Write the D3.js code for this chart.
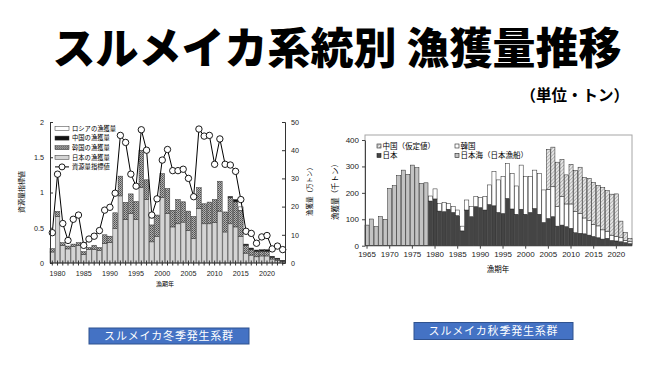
<!DOCTYPE html>
<html>
<head>
<meta charset="utf-8">
<script src="https://cdn.jsdelivr.net/npm/d3@7"></script>
<style>
  body { margin: 0; background: #fff; }
  svg text { font-family: "Liberation Sans", Arial, "Noto Sans CJK JP", sans-serif; }
  .jp { font-family: "Noto Sans CJK JP", sans-serif; }
</style>
</head>
<body>
<div id="chart"></div>
<script>
// ---- winter cohort (万トン, index) ----
var yearsW = d3.range(1979, 2024);
var japanW  = [3.9,16.5,6.2,5.0,5.8,6.3,3.0,4.8,4.8,4.5, 7.0,7.3,12.2,23.8,15.5,17.5,15.5,26.8,22.5,7.5,
               9.5,23.2,17.5,12.8,13.9,14.5,11.6,8.6,19.3,13.9, 13.9,14.3,18.4,11.0,13.9,12.8,9.5,3.5,2.8,2.2,
               2.5,2.5,1.4,1.0,0.6];
var koreaW  = [1.2,1.8,1.0,1.0,0.9,0.9,1.0,0.7,1.5,1.0, 3.0,2.2,5.6,7.0,6.0,7.0,6.3,13.2,7.0,6.0,
               7.5,8.5,8.9,5.9,8.6,7.2,6.8,7.9,7.4,7.1, 7.7,8.2,10.6,7.1,9.3,8.9,9.2,2.8,2.0,1.9,
               1.7,1.6,0.6,0.4,0.1];
var chinaW  = [0,0,0,0,0,0,0,0,0,0, 0,0,0,0,0,0,0,0,0,0,
               0,0,0,0,0,0,0,0,0,0, 0,0,0,0,0.4,0.8,0,0.4,0.5,0.5,
               0.5,0.6,0.4,0.3,0.2];
var russiaW = [0,0,0,0,0,0,0,0,0,0, 0,0,0,0,0,0,0,0,0,2.5,
               0,0,0,0,0,0,0,0,0,0, 0,0,0,0,0,0,1.2,0,0,0,
               0,0,0,0,0];
var indexW  = [0.43,1.26,0.56,0.32,0.62,0.68,0.25,0.34,0.38,0.46, 0.75,0.79,0.99,1.81,1.71,1.26,1.09,1.89,1.6,0.68,
               0.91,1.46,1.61,1.31,1.31,1.33,1.2,0.94,1.9,1.8, 1.81,1.4,1.76,1.4,1.39,1.3,0.9,0.45,0.42,0.28,
               0.37,0.39,0.2,0.24,0.19];
var ticksWL = [0,0.5,1,1.5,2];
var ticksWR = [0,10,20,30,40,50];

// ---- autumn cohort (千トン) ----
var yearsA = d3.range(1965, 2024);
var seaA   = [78,101,72,110,100,217,227,265,286,270,305,295,236,238];   // 1965-1978
var japanA = [169,177,131,129,138,126,114,56,135,110, 148,144,135,156,151,126,122,179,139,119,
              138,119,126,141,119,88,103,110,74,78, 72,66,49,47,45,40,35,30,25,28,
              20,18,15,12,8];                                          // 1979-2023
var totKA  = [188,215,160,164,160,148,135,74,173,148, 186,182,186,230,280,249,261,312,274,226,
              305,261,261,286,274,211,213,223,148,186, 158,158,129,122,105,95,80,75,60,55,
              40,35,30,20,15];                                         // japan + korea
var totA   = [188,215,160,164,160,148,135,74,173,148, 186,182,186,230,280,249,261,312,274,226,
              305,261,261,286,274,211,364,373,316,326, 268,308,284,297,258,255,240,228,220,208,
              195,196,93,50,28];                                       // all
var ticksA = [0,100,200,300,400];

// build tables
var tableW = yearsW.map(function(y, i) {
  return {year: y, japan: japanW[i], korea: koreaW[i], china: chinaW[i], russia: russiaW[i], index: indexW[i]};
});
var tableA = yearsA.map(function(y, i) {
  var k = i - 14;
  if (k < 0) return {year: y, japan: 0, korea: 0, china: 0, sea: seaA[i]};
  return {year: y, japan: japanA[k], korea: totKA[k] - japanA[k], china: totA[k] - totKA[k], sea: 0};
});

var svg = d3.select("#chart").append("svg")
  .attr("width", 650).attr("height", 365)
  .style("display", "block");

var defs = svg.append("defs");
var pk = defs.append("pattern").attr("id", "krPat")
  .attr("patternUnits", "userSpaceOnUse").attr("width", 2).attr("height", 2);
pk.append("rect").attr("width", 2).attr("height", 2).attr("fill", "#b0b0b0");
pk.append("rect").attr("width", 1).attr("height", 1).attr("fill", "#505050");
pk.append("rect").attr("x", 1).attr("y", 1).attr("width", 1).attr("height", 1).attr("fill", "#6a6a6a");

var pc = defs.append("pattern").attr("id", "cnPat")
  .attr("patternUnits", "userSpaceOnUse").attr("width", 2.5).attr("height", 2.5)
  .attr("patternTransform", "rotate(45)");
pc.append("rect").attr("width", 2.5).attr("height", 2.5).attr("fill", "#e6e6e6");
pc.append("line").attr("x1", 0).attr("y1", 0).attr("x2", 0).attr("y2", 2.5)
  .attr("stroke", "#8a8a8a").attr("stroke-width", 1);

// title
svg.append("text").attr("class", "jp")
  .attr("x", 337).attr("y", 64).attr("text-anchor", "middle")
  .attr("font-size", 43).attr("font-weight", 900).attr("fill", "#000")
  .text("スルメイカ系統別 漁獲量推移");
svg.append("text").attr("class", "jp")
  .attr("x", 629).attr("y", 101).attr("text-anchor", "end")
  .attr("font-size", 15.5).attr("font-weight", 700)
  .text("（単位・トン）");

//********** left chart: winter cohort **********//
var xW = d3.scaleBand().domain(yearsW).range([50, 285]).paddingInner(0.12);
var yWt = d3.scaleLinear().domain([0, 50]).range([263, 122]);
var yWi = d3.scaleLinear().domain([0, 2]).range([263, 122]);

var keysW = ["japan", "korea", "china", "russia"];
var fillW = {japan: "#d4d4d4", korea: "url(#krPat)", china: "#111", russia: "#fff"};
var stackW = d3.stack().keys(keysW)(tableW);

var gW = svg.append("g");
gW.selectAll("g.ser").data(stackW).enter().append("g")
  .attr("fill", function(d) { return fillW[d.key]; })
  .selectAll("rect").data(function(d) { return d.filter(function(p) { return p[1] - p[0] > 0; }); })
  .enter().append("rect")
    .attr("x", function(d) { return xW(d.data.year); })
    .attr("width", xW.bandwidth())
    .attr("y", function(d) { return yWt(d[1]); })
    .attr("height", function(d) { return yWt(d[0]) - yWt(d[1]); })
    .attr("stroke", "#333").attr("stroke-width", 0.5);

var lineW = d3.line()
  .x(function(d) { return xW(d.year) + xW.bandwidth() / 2; })
  .y(function(d) { return yWi(d.index); });
gW.append("path").datum(tableW).attr("d", lineW)
  .attr("fill", "none").attr("stroke", "#000").attr("stroke-width", 1);
gW.selectAll("circle").data(tableW).enter().append("circle")
  .attr("cx", function(d) { return xW(d.year) + xW.bandwidth() / 2; })
  .attr("cy", function(d) { return yWi(d.index); })
  .attr("r", 3.2).attr("fill", "#fff").attr("stroke", "#000").attr("stroke-width", 0.9);

// axes
var axL = svg.append("g").attr("transform", "translate(50,0)")
  .call(d3.axisLeft(yWi).tickValues(ticksWL).tickSize(-3).tickPadding(6).tickFormat(d3.format("")));
var axR = svg.append("g").attr("transform", "translate(285,0)")
  .call(d3.axisRight(yWt).tickValues(ticksWR).tickSize(-3).tickPadding(6));
var axB = svg.append("g").attr("transform", "translate(0,263)")
  .call(d3.axisBottom(xW).tickValues(yearsW).tickSizeOuter(0).tickSize(2.5).tickPadding(5)
    .tickFormat(function(d) { return d % 5 === 0 ? d : ""; }));
axB.selectAll(".tick line").attr("y1", -2.5);
axB.select(".domain").attr("d", "M50,0H285");
[axL, axR, axB].forEach(function(a) {
  a.selectAll("text").attr("font-size", 7.2).attr("fill", "#222").attr("font-family", "Liberation Sans, Arial, sans-serif");
  a.selectAll("line,path").attr("stroke", "#333");
});

svg.append("text").attr("class", "jp").attr("transform", "translate(24,192) rotate(-90)")
  .attr("text-anchor", "middle").attr("font-size", 7).text("資源量指標値");
svg.append("text").attr("class", "jp").attr("transform", "translate(312,190) rotate(-90)")
  .attr("text-anchor", "middle").attr("font-size", 6.5).text("漁獲量（万トン）");
svg.append("text").attr("class", "jp").attr("x", 165).attr("y", 286)
  .attr("text-anchor", "middle").attr("font-size", 6).text("漁期年");

// legend
var legW = [
  {label: "ロシアの漁獲量", key: "russia"},
  {label: "中国の漁獲量", key: "china"},
  {label: "韓国の漁獲量", key: "korea"},
  {label: "日本の漁獲量", key: "japan"},
  {label: "資源量指標値", key: "index"}
];
var lg = svg.append("g").selectAll("g").data(legW).enter().append("g")
  .attr("transform", function(d, i) { return "translate(55," + (128.5 + i * 9.6) + ")"; });
lg.each(function(d) {
  var g = d3.select(this);
  if (d.key === "index") {
    g.append("line").attr("x1", 0).attr("x2", 14).attr("stroke", "#000").attr("stroke-width", 1);
    g.append("circle").attr("cx", 7).attr("r", 3).attr("fill", "#fff").attr("stroke", "#000").attr("stroke-width", 0.9);
  } else {
    g.append("rect").attr("y", -2).attr("width", 14).attr("height", 4)
      .attr("fill", fillW[d.key]).attr("stroke", "#333").attr("stroke-width", 0.5);
  }
  g.append("text").attr("class", "jp").attr("x", 17).attr("dy", "0.35em")
    .attr("font-size", 6.3).text(d.label);
});

//********** right chart: autumn cohort **********//
var xA = d3.scaleBand().domain(yearsA).range([365, 632]).paddingInner(0.1);
var yA = d3.scaleLinear().domain([0, 400]).range([245.7, 140]);

svg.append("rect").attr("x", 365).attr("y", 135).attr("width", 267).attr("height", 110.7)
  .attr("fill", "none").attr("stroke", "#a6a6a6").attr("stroke-width", 1);

var keysA = ["japan", "korea", "china", "sea"];
var fillA = {japan: "#444", korea: "#fff", china: "url(#cnPat)", sea: "#c3c3c3"};
var stackA = d3.stack().keys(keysA)(tableA);
svg.append("g").selectAll("g").data(stackA).enter().append("g")
  .attr("fill", function(d) { return fillA[d.key]; })
  .selectAll("rect").data(function(d) { return d.filter(function(p) { return p[1] - p[0] > 0; }); })
  .enter().append("rect")
    .attr("x", function(d) { return xA(d.data.year); })
    .attr("width", xA.bandwidth())
    .attr("y", function(d) { return yA(d[1]); })
    .attr("height", function(d) { return yA(d[0]) - yA(d[1]); })
    .attr("stroke", "#222").attr("stroke-width", 0.5);

var axAL = svg.append("g").attr("transform", "translate(365,0)")
  .call(d3.axisLeft(yA).tickValues(ticksA).tickSize(3).tickSizeOuter(0).tickPadding(3));
var axAB = svg.append("g").attr("transform", "translate(0,245.7)")
  .call(d3.axisBottom(xA).tickValues(yearsA.filter(function(y) { return y % 5 === 0; }))
    .tickSize(3).tickSizeOuter(0).tickPadding(3));
axAB.select(".domain").attr("d", "M365,0H632");
[axAL, axAB].forEach(function(a) {
  a.selectAll("text").attr("font-size", 8).attr("fill", "#222").attr("font-family", "Liberation Sans, Arial, sans-serif");
  a.selectAll("line,path").attr("stroke", "#444");
});

svg.append("text").attr("class", "jp").attr("transform", "translate(338,190) rotate(-90)")
  .attr("text-anchor", "middle").attr("font-size", 7.5).text("漁獲量（千トン）");
svg.append("text").attr("class", "jp").attr("x", 498).attr("y", 272)
  .attr("text-anchor", "middle").attr("font-size", 7.5).text("漁期年");

var legA = [
  {label: "中国（仮定値）", key: "china", x: 377, y: 146},
  {label: "韓国", key: "korea", x: 455, y: 146},
  {label: "日本", key: "japan", x: 377, y: 155.5},
  {label: "日本海（日本漁船）", key: "sea", x: 455, y: 155.5}
];
var la = svg.append("g").selectAll("g").data(legA).enter().append("g")
  .attr("transform", function(d) { return "translate(" + d.x + "," + d.y + ")"; });
la.append("rect").attr("y", -2).attr("width", 4).attr("height", 4)
  .attr("fill", function(d) { return fillA[d.key]; }).attr("stroke", "#222").attr("stroke-width", 0.6);
la.append("text").attr("class", "jp").attr("x", 5.5).attr("dy", "0.35em")
  .attr("font-size", 7.5).text(function(d) { return d.label; });

//********** bottom captions **********//
var caps = [
  {label: "スルメイカ冬季発生系群", x: 89, y: 328, w: 160, h: 16},
  {label: "スルメイカ秋季発生系群", x: 414, y: 322.5, w: 159, h: 17}
];
var cg = svg.append("g").selectAll("g").data(caps).enter().append("g");
cg.append("rect")
  .attr("x", function(d) { return d.x; }).attr("y", function(d) { return d.y; })
  .attr("width", function(d) { return d.w; }).attr("height", function(d) { return d.h; })
  .attr("fill", "#4472c4").attr("stroke", "#2f528f").attr("stroke-width", 1);
cg.append("text").attr("class", "jp")
  .attr("x", function(d) { return d.x + d.w / 2; }).attr("y", function(d) { return d.y + d.h / 2; })
  .attr("dy", "0.36em").attr("text-anchor", "middle").attr("fill", "#fff")
  .attr("font-size", 11).attr("letter-spacing", 0.8)
  .text(function(d) { return d.label; });
</script>
</body>
</html>
